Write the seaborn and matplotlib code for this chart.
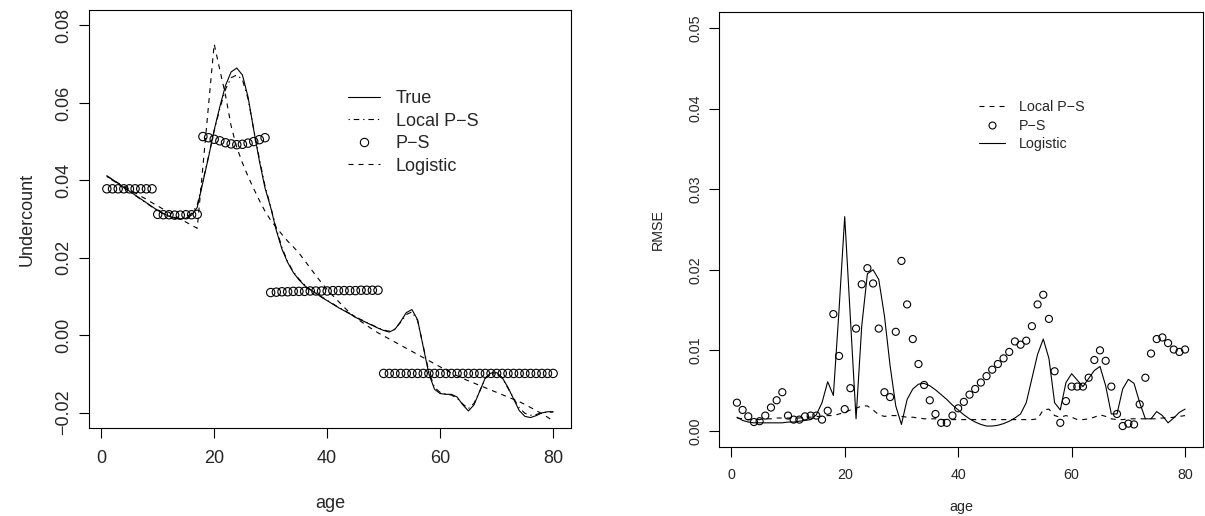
import numpy as np
import pandas as pd
import matplotlib
matplotlib.use("Agg")
import matplotlib.pyplot as plt
from matplotlib.lines import Line2D
from matplotlib.ticker import FuncFormatter
import seaborn as sns

# ages 1..80
age = list(range(1, 81))

# left panel: undercount estimates
true_uc = [0.0412, 0.0402, 0.0392, 0.0382, 0.0372, 0.0362, 0.0352, 0.0342, 0.0332, 0.0322,
           0.0314, 0.0307, 0.0302, 0.0300, 0.0302, 0.0310, 0.0330, 0.0395, 0.0460, 0.0530,
           0.0590, 0.0645, 0.0680, 0.0690, 0.0672, 0.0615, 0.0530, 0.0450, 0.0380, 0.0330,
           0.0270, 0.0222, 0.0188, 0.0162, 0.0143, 0.0128, 0.0117, 0.0108, 0.0098, 0.0089,
           0.0080, 0.0071, 0.0063, 0.0055, 0.0046, 0.0039, 0.0032, 0.0025, 0.0018, 0.0012,
           0.0008, 0.0015, 0.0035, 0.0058, 0.0066, 0.0040, -0.0030, -0.0100, -0.0140, -0.0151,
           -0.0153, -0.0153, -0.0160, -0.0180, -0.0196, -0.0180, -0.0145, -0.0110, -0.0098, -0.0097,
           -0.0110, -0.0135, -0.0165, -0.0195, -0.0210, -0.0213, -0.0208, -0.0201, -0.0198, -0.0198]

local_ps_uc = [0.0410, 0.0400, 0.0391, 0.0381, 0.0371, 0.0361, 0.0351, 0.0341, 0.0331, 0.0322,
               0.0314, 0.0308, 0.0304, 0.0302, 0.0305, 0.0314, 0.0336, 0.0398, 0.0462, 0.0528,
               0.0585, 0.0635, 0.0665, 0.0672, 0.0660, 0.0610, 0.0532, 0.0455, 0.0385, 0.0332,
               0.0275, 0.0226, 0.0190, 0.0164, 0.0145, 0.0130, 0.0118, 0.0109, 0.0099, 0.0090,
               0.0081, 0.0072, 0.0064, 0.0056, 0.0047, 0.0040, 0.0033, 0.0026, 0.0019, 0.0013,
               0.0010, 0.0016, 0.0033, 0.0053, 0.0060, 0.0038, -0.0028, -0.0095, -0.0135, -0.0148,
               -0.0152, -0.0155, -0.0163, -0.0178, -0.0190, -0.0176, -0.0145, -0.0112, -0.0100, -0.0100,
               -0.0112, -0.0137, -0.0163, -0.0188, -0.0202, -0.0207, -0.0205, -0.0201, -0.0199, -0.0199]

ps_uc = [0.0378, 0.0378, 0.0378, 0.0378, 0.0378, 0.0378, 0.0378, 0.0378, 0.0378, 0.0312,
         0.0311, 0.0311, 0.0310, 0.0310, 0.0311, 0.0311, 0.0312, 0.0513, 0.0510, 0.0506,
         0.0502, 0.0497, 0.0494, 0.0492, 0.0493, 0.0496, 0.0500, 0.0505, 0.0510, 0.0110,
         0.0111, 0.0112, 0.0112, 0.0113, 0.0113, 0.0113, 0.0114, 0.0114, 0.0114, 0.0114,
         0.0115, 0.0115, 0.0115, 0.0115, 0.0115, 0.0116, 0.0116, 0.0116, 0.0116, -0.0099,
         -0.0099, -0.0099, -0.0099, -0.0099, -0.0099, -0.0099, -0.0099, -0.0099, -0.0099, -0.0099,
         -0.0099, -0.0099, -0.0099, -0.0099, -0.0099, -0.0099, -0.0099, -0.0099, -0.0099, -0.0099,
         -0.0099, -0.0099, -0.0099, -0.0099, -0.0099, -0.0099, -0.0099, -0.0099, -0.0099, -0.0099]

logistic_uc = [0.0410, 0.0402, 0.0393, 0.0385, 0.0376, 0.0368, 0.0359, 0.0351, 0.0342, 0.0334,
               0.0325, 0.0317, 0.0308, 0.0300, 0.0292, 0.0284, 0.0276, 0.0435, 0.0594, 0.0752,
               0.0685, 0.0620, 0.0540, 0.0485, 0.0445, 0.0410, 0.0378, 0.0348, 0.0320, 0.0297,
               0.0278, 0.0260, 0.0243, 0.0228, 0.0212, 0.0193, 0.0173, 0.0154, 0.0135, 0.0118,
               0.0102, 0.0087, 0.0072, 0.0058, 0.0046, 0.0035, 0.0025, 0.0015, 0.0006, -0.0002,
               -0.0010, -0.0018, -0.0026, -0.0034, -0.0042, -0.0050, -0.0058, -0.0066, -0.0074, -0.0082,
               -0.0090, -0.0098, -0.0105, -0.0112, -0.0118, -0.0124, -0.0130, -0.0136, -0.0142, -0.0148,
               -0.0154, -0.0160, -0.0166, -0.0172, -0.0179, -0.0187, -0.0195, -0.0203, -0.0212, -0.0222]

# right panel: RMSE
local_ps_rmse = [0.0016, 0.0015, 0.0014, 0.0014, 0.0014, 0.0015, 0.0015, 0.0016, 0.0016, 0.0016,
                 0.0016, 0.0016, 0.0017, 0.0017, 0.0018, 0.0018, 0.0019, 0.0019, 0.0021, 0.0023,
                 0.0026, 0.0028, 0.0031, 0.0031, 0.0026, 0.0020, 0.0018, 0.0019, 0.0019, 0.0018,
                 0.0017, 0.0017, 0.0016, 0.0015, 0.0015, 0.0015, 0.0014, 0.0014, 0.0014, 0.0014,
                 0.0014, 0.0014, 0.0014, 0.0014, 0.0014, 0.0014, 0.0014, 0.0014, 0.0014, 0.0014,
                 0.0014, 0.0014, 0.0014, 0.0015, 0.0026, 0.0027, 0.0019, 0.0017, 0.0019, 0.0017,
                 0.0014, 0.0014, 0.0015, 0.0017, 0.0020, 0.0018, 0.0015, 0.0014, 0.0014, 0.0015,
                 0.0015, 0.0015, 0.0015, 0.0015, 0.0015, 0.0016, 0.0016, 0.0017, 0.0018, 0.0019]

ps_rmse = [0.0035, 0.0026, 0.0018, 0.0011, 0.0012, 0.0019, 0.0029, 0.0038, 0.0048, 0.0019,
           0.0014, 0.0014, 0.0018, 0.0019, 0.0019, 0.0014, 0.0025, 0.0145, 0.0093, 0.0027,
           0.0053, 0.0127, 0.0182, 0.0202, 0.0183, 0.0127, 0.0048, 0.0042, 0.0123, 0.0211,
           0.0157, 0.0114, 0.0083, 0.0057, 0.0038, 0.0021, 0.0010, 0.0010, 0.0019, 0.0028,
           0.0036, 0.0045, 0.0052, 0.0060, 0.0068, 0.0076, 0.0083, 0.0090, 0.0098, 0.0111,
           0.0107, 0.0112, 0.0130, 0.0157, 0.0169, 0.0139, 0.0074, 0.0010, 0.0037, 0.0055,
           0.0055, 0.0055, 0.0066, 0.0088, 0.0100, 0.0087, 0.0055, 0.0021, 0.0006, 0.0009,
           0.0008, 0.0033, 0.0066, 0.0096, 0.0114, 0.0116, 0.0109, 0.0101, 0.0098, 0.0101]

logistic_rmse = [0.0017, 0.0013, 0.0011, 0.0010, 0.0010, 0.0010, 0.0010, 0.0010, 0.0010, 0.0011,
                 0.0011, 0.0012, 0.0013, 0.0014, 0.0020, 0.0035, 0.0061, 0.0044, 0.0150, 0.0266,
                 0.0140, 0.0015, 0.0130, 0.0195, 0.0200, 0.0188, 0.0143, 0.0081, 0.0031, 0.0008,
                 0.0039, 0.0052, 0.0058, 0.0059, 0.0056, 0.0051, 0.0045, 0.0039, 0.0032, 0.0026,
                 0.0020, 0.0015, 0.0011, 0.0008, 0.0006, 0.0006, 0.0007, 0.0009, 0.0012, 0.0016,
                 0.0021, 0.0035, 0.0065, 0.0095, 0.0114, 0.0090, 0.0035, 0.0026, 0.0060, 0.0071,
                 0.0063, 0.0055, 0.0065, 0.0075, 0.0080, 0.0056, 0.0021, 0.0021, 0.0052, 0.0064,
                 0.0059, 0.0035, 0.0015, 0.0015, 0.0024, 0.0019, 0.0010, 0.0016, 0.0023, 0.0027]

uc = pd.DataFrame({"age": age, "true": true_uc, "local": local_ps_uc,
                   "ps": ps_uc, "logistic": logistic_uc})
rm = pd.DataFrame({"age": age, "local": local_ps_rmse, "ps": ps_rmse,
                   "logistic": logistic_rmse})

sns.set_style("ticks")
plt.rcParams["font.family"] = ["Liberation Sans", "DejaVu Sans"]
plt.rcParams["axes.linewidth"] = 0.8
plt.rcParams["axes.edgecolor"] = "black"

DASH = (0, (4.5, 4.5))
DOTDASH = (0, (1.2, 3.5, 5, 3.5))
LW = 0.8
MINUS = "\u2212"


def fmt2(v, pos):
    return f"{v:.2f}".replace("-", MINUS)


fig = plt.figure(figsize=(12.05, 5.16), dpi=100)
ax1 = fig.add_axes([89 / 1205, 1 - 428 / 516, 482 / 1205, 418 / 516])
ax2 = fig.add_axes([719 / 1205, 1 - 447 / 516, 484 / 1205, 435 / 516])

# ---- left: undercount ----
sns.lineplot(data=uc, x="age", y="true", color="black", lw=LW, ax=ax1)
sns.lineplot(data=uc, x="age", y="local", color="black", lw=LW, linestyle=DOTDASH, ax=ax1)
sns.scatterplot(data=uc, x="age", y="ps", marker="o", s=36, facecolor="none",
                edgecolor="black", linewidth=0.8, ax=ax1)
sns.lineplot(data=uc, x="age", y="logistic", color="black", lw=LW, linestyle=DASH, ax=ax1)

ax1.set_xlim(1 - 79 * 0.04, 80 + 79 * 0.04)
ax1.set_ylim(-0.02 - 0.004, 0.08 + 0.004)
ax1.set_xticks([0, 20, 40, 60, 80])
ax1.set_yticks([-0.02, 0.00, 0.02, 0.04, 0.06, 0.08])
ax1.yaxis.set_major_formatter(FuncFormatter(fmt2))
ax1.tick_params(axis="both", labelsize=13, length=7, width=0.8, color="black")
ax1.tick_params(axis="x", pad=9)
ax1.tick_params(axis="y", pad=5, labelrotation=90)
for t in ax1.get_yticklabels():
    t.set_va("center")
ax1.set_xlabel("age", fontsize=13, labelpad=20)
ax1.set_ylabel("Undercount", fontsize=13, labelpad=14)

h1 = [Line2D([], [], color="black", lw=LW),
      Line2D([], [], color="black", lw=LW, linestyle=DOTDASH),
      Line2D([], [], color="black", lw=0, marker="o", markersize=6,
             markerfacecolor="none", markeredgewidth=0.8),
      Line2D([], [], color="black", lw=LW, linestyle=DASH)]
ax1.legend(h1, ["True", f"Local P{MINUS}S", f"P{MINUS}S", "Logistic"],
           loc="upper left", bbox_to_anchor=(0.537, 0.808), frameon=False,
           fontsize=13, handlelength=1.8, handletextpad=0.85, labelspacing=0.3,
           borderpad=0, borderaxespad=0)

# ---- right: RMSE ----
sns.lineplot(data=rm, x="age", y="local", color="black", lw=LW, linestyle=DASH, ax=ax2)
sns.scatterplot(data=rm, x="age", y="ps", marker="o", s=26, facecolor="none",
                edgecolor="black", linewidth=0.8, ax=ax2)
sns.lineplot(data=rm, x="age", y="logistic", color="black", lw=LW, ax=ax2)

ax2.set_xlim(1 - 79 * 0.04, 80 + 79 * 0.04)
ax2.set_ylim(0 - 0.002, 0.05 + 0.002)
ax2.set_xticks([0, 20, 40, 60, 80])
ax2.set_yticks([0.00, 0.01, 0.02, 0.03, 0.04, 0.05])
ax2.yaxis.set_major_formatter(FuncFormatter(fmt2))
ax2.tick_params(axis="both", labelsize=10.3, length=7, width=0.8, color="black")
ax2.tick_params(axis="x", pad=8)
ax2.tick_params(axis="y", pad=5, labelrotation=90)
for t in ax2.get_yticklabels():
    t.set_va("center")
ax2.set_xlabel("age", fontsize=10.3, labelpad=13)
ax2.set_ylabel("RMSE", fontsize=10.3, labelpad=17)

h2 = [Line2D([], [], color="black", lw=LW, linestyle=DASH),
      Line2D([], [], color="black", lw=0, marker="o", markersize=5,
             markerfacecolor="none", markeredgewidth=0.8),
      Line2D([], [], color="black", lw=LW)]
ax2.legend(h2, [f"Local P{MINUS}S", f"P{MINUS}S", "Logistic"],
           loc="upper left", bbox_to_anchor=(0.537, 0.797), frameon=False,
           fontsize=10.3, handlelength=1.8, handletextpad=1.0, labelspacing=0.32,
           borderpad=0, borderaxespad=0)

for a in (ax1, ax2):
    for s in a.spines.values():
        s.set_visible(True)
        s.set_linewidth(0.8)

fig.savefig("out.png", dpi=100)
